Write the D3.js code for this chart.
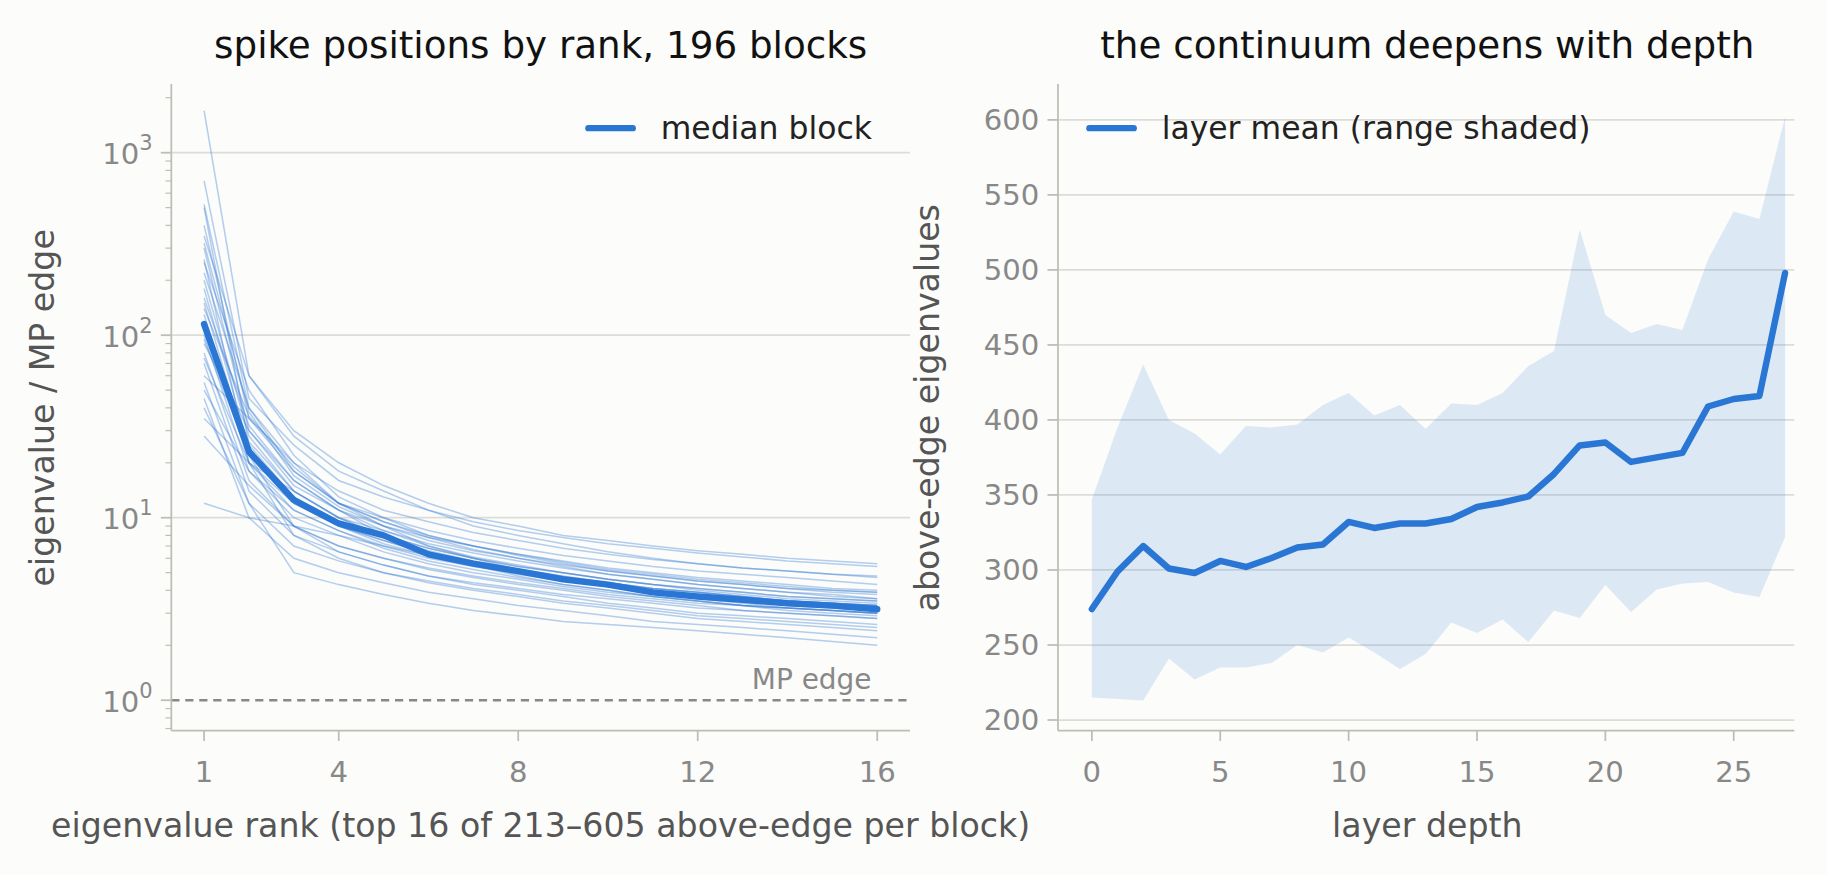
<!DOCTYPE html>
<html><head><meta charset="utf-8">
<script src="https://cdn.jsdelivr.net/npm/d3@7"></script>
<style>body{margin:0;background:#fcfcfa;overflow:hidden}text{font-family:"DejaVu Sans",sans-serif}</style>
</head><body><svg id="c" width="1827" height="875" viewBox="0 0 1568 751"></svg>
<script>
const ranks = d3.range(1,17);
const medianBlock = [115,23,12.5,9.3,8,6.3,5.6,5.1,4.6,4.3,3.9,3.7,3.55,3.4,3.3,3.15];
const blockLines = [
[1700,60,30,20,15,12,10,9,8,7.5,7,6.6,6.3,6,5.8,5.6],
[700,45,25,16,13,11,9.5,8.5,7.8,7.2,6.8,6.4,6.1,5.8,5.6,5.4],
[520,40,20,14,11,9.5,8.3,7.5,6.8,6.3,5.9,5.6,5.3,5.1,4.9,4.7],
[400,35,18,12,10,8.5,7.5,6.8,6.2,5.8,5.4,5.1,4.9,4.7,4.5,4.3],
[300,30,15,11,9,7.8,7,6.3,5.8,5.3,5,4.7,4.5,4.3,4.1,4],
[250,50,22,13,10,8,7,6.2,5.6,5.1,4.8,4.5,4.3,4.1,3.9,3.8],
[200,28,14,10,8.5,7.2,6.4,5.8,5.3,4.9,4.6,4.3,4.1,3.9,3.8,3.6],
[180,24,13,9.5,8,6.8,6,5.4,5,4.6,4.3,4.1,3.9,3.7,3.6,3.5],
[150,22,12,9,7.5,6.4,5.7,5.1,4.7,4.4,4.1,3.9,3.7,3.5,3.4,3.3],
[130,20,11,8.5,7,6,5.4,4.9,4.5,4.2,3.9,3.7,3.5,3.4,3.3,3.2],
[100,18,10,8,6.5,5.6,5,4.6,4.2,3.9,3.7,3.5,3.3,3.2,3.1,3],
[90,30,16,11,8,6.5,5.5,4.8,4.3,4,3.7,3.5,3.3,3.1,3,2.9],
[80,16,9,7,6,5.2,4.7,4.3,4,3.7,3.5,3.3,3.1,3,2.9,2.8],
[70,14,8,6.5,5.5,4.8,4.3,4,3.7,3.4,3.2,3,2.9,2.8,2.7,2.6],
[60,35,20,12,9,7,6,5.2,4.6,4.2,3.9,3.6,3.4,3.2,3.1,3],
[55,12,7,5.8,5,4.4,4,3.7,3.4,3.2,3,2.8,2.7,2.6,2.5,2.4],
[45,10,6,5,4.4,3.9,3.6,3.3,3.1,2.9,2.7,2.6,2.5,2.4,2.3,2.2],
[40,12,5,4.3,3.8,3.4,3.1,2.9,2.7,2.6,2.5,2.4,2.3,2.2,2.1,2.0],
[28,15,9,7,6,5.3,4.8,4.4,4.1,3.8,3.6,3.4,3.3,3.2,3.1,3],
[12,10,9,8,7,6.2,5.6,5.1,4.7,4.4,4.1,3.9,3.7,3.5,3.4,3.3],
[350,60,28,18,14,11,9,8,7.2,6.5,6,5.6,5.3,5.1,4.9,4.8],
[220,40,18,12,9.5,8,7,6.3,5.7,5.2,4.9,4.6,4.4,4.2,4,3.9],
[160,32,16,11,8.5,7,6.1,5.5,5,4.6,4.3,4,3.8,3.6,3.5,3.4],
[110,26,14,10,7.8,6.6,5.8,5.2,4.8,4.4,4.1,3.9,3.7,3.5,3.4,3.3],
[75,20,12,9,7.2,6.2,5.5,5,4.6,4.3,4,3.8,3.6,3.5,3.4,3.3],
[50,18,11,8.5,6.8,5.8,5.2,4.7,4.3,4,3.7,3.5,3.3,3.2,3.1,3],
[35,20,14,10,8,6.8,6,5.4,5,4.6,4.3,4.1,3.9,3.7,3.6,3.5],
[500,25,13,9,7.5,6.3,5.6,5,4.6,4.2,3.9,3.7,3.5,3.3,3.2,3.1],
[260,20,8,6,5,4.5,4.1,3.8,3.5,3.3,3.1,2.9,2.8,2.7,2.6,2.5],
[320,38,17,11.5,9,7.5,6.6,6,5.5,5.1,4.8,4.5,4.3,4.1,4,3.9],
[140,36,19,12,9.5,7.8,6.7,6,5.4,4.9,4.6,4.3,4.1,3.9,3.7,3.6],
[95,22,9,6.5,5.5,4.8,4.4,4.1,3.8,3.6,3.4,3.2,3.1,3,2.9,2.8]
];
const layers = d3.range(0,28);
const layerMean = [274,299,316,301,298,306,302,308,315,317,332,328,331,331,334,342,345,349,364,383,385,372,375,378,409,414,416,498];
const layerMax = [347,395,437,400,391,377,396,395,397,410,418,403,410,394,411,410,418,436,446,527,470,458,464,460,507,539,534,602];
const layerMin = [215,214,213,241,227,235,235,238,250,245,255,245,234,244,265,258,267,252,273,268,290,272,287,291,292,285,282,322];
const xTicksL = [1,4,8,12,16];
const xTicksR = [0,5,10,15,20,25];
const yTicksR = [200,250,300,350,400,450,500,550,600];

const svg = d3.select("#c");
const blue = "#2a76d4", grid="#dcdcd8", spine="#bdbdb5", tickc="#888", labc="#555";
const FT=32, FK=25, FA=28.5, FG=27;
svg.append("rect").attr("width",1568).attr("height",751).attr("fill","#fcfcfa");

// LEFT
const L={l:147,r:781,t:72,b:627};
const xL=d3.scaleLinear().domain([0.27,16.73]).range([L.l,L.r]);
const yL=d3.scaleLog().domain([Math.pow(10,-0.166),Math.pow(10,3.377)]).range([L.b,L.t]);
const gL=svg.append("g");
[10,100,1000].forEach(v=>gL.append("line").attr("x1",L.l).attr("x2",L.r).attr("y1",yL(v)).attr("y2",yL(v)).attr("stroke",grid).attr("stroke-width",1.5));
const lineL=d3.line().x((d,i)=>xL(ranks[i])).y(d=>yL(d));
blockLines.forEach(b=>gL.append("path").attr("d",lineL(b)).attr("fill","none").attr("stroke",blue).attr("stroke-opacity",0.35).attr("stroke-width",1.3));
gL.append("line").attr("x1",L.l).attr("x2",L.r).attr("y1",yL(1)).attr("y2",yL(1)).attr("stroke","#888").attr("stroke-width",2).attr("stroke-dasharray","7,5");
gL.append("text").attr("x",748).attr("y",yL(1)-10).attr("text-anchor","end").attr("font-size",24).attr("fill","#888").text("MP edge");
gL.append("path").attr("d",lineL(medianBlock)).attr("fill","none").attr("stroke",blue).attr("stroke-width",5.5).attr("stroke-linejoin","round").attr("stroke-linecap","round");
gL.append("line").attr("x1",L.l).attr("x2",L.l).attr("y1",L.t).attr("y2",L.b).attr("stroke",spine).attr("stroke-width",1.5);
gL.append("line").attr("x1",L.l).attr("x2",L.r).attr("y1",L.b).attr("y2",L.b).attr("stroke",spine).attr("stroke-width",1.5);
for(let e=-1;e<=3;e++)for(let m=2;m<=9;m++){const v=m*Math.pow(10,e);if(v<yL.domain()[0]||v>yL.domain()[1])continue;
 gL.append("line").attr("x1",L.l-5).attr("x2",L.l).attr("y1",yL(v)).attr("y2",yL(v)).attr("stroke",spine);}
[0,1,2,3].forEach(e=>{const y=yL(Math.pow(10,e));
 gL.append("line").attr("x1",L.l-9).attr("x2",L.l).attr("y1",y).attr("y2",y).attr("stroke",spine).attr("stroke-width",1.5);
 const t=gL.append("text").attr("x",L.l-16).attr("y",y+10).attr("text-anchor","end").attr("font-size",FK).attr("fill",tickc);
 t.append("tspan").text("10");t.append("tspan").attr("dy",-12).attr("font-size",18).text(e);});
xTicksL.forEach(v=>{gL.append("line").attr("x1",xL(v)).attr("x2",xL(v)).attr("y1",L.b).attr("y2",L.b+9).attr("stroke",spine).attr("stroke-width",1.5);
 gL.append("text").attr("x",xL(v)).attr("y",L.b+44).attr("text-anchor","middle").attr("font-size",FK).attr("fill",tickc).text(v);});
svg.append("text").attr("x",464).attr("y",50).attr("text-anchor","middle").attr("font-size",FT).attr("fill","#111").text("spike positions by rank, 196 blocks");
svg.append("text").attr("x",464).attr("y",718).attr("text-anchor","middle").attr("font-size",FA).attr("fill",labc).text("eigenvalue rank (top 16 of 213–605 above-edge per block)");
svg.append("text").attr("transform","translate(46,350) rotate(-90)").attr("text-anchor","middle").attr("font-size",FA).attr("fill",labc).text("eigenvalue / MP edge");
svg.append("line").attr("x1",505).attr("x2",543).attr("y1",110).attr("y2",110).attr("stroke",blue).attr("stroke-width",5.5).attr("stroke-linecap","round");
svg.append("text").attr("x",567).attr("y",119).attr("font-size",FG).attr("fill","#222").text("median block");

// RIGHT
const R={l:908,r:1540,t:72,b:627};
const xR=d3.scaleLinear().domain([-1.32,27.36]).range([R.l,R.r]);
const yR=d3.scaleLinear().domain([193,624]).range([R.b,R.t]);
const gR=svg.append("g");
yTicksR.forEach(v=>gR.append("line").attr("x1",R.l).attr("x2",R.r).attr("y1",yR(v)).attr("y2",yR(v)).attr("stroke",grid).attr("stroke-width",1.5));
gR.append("path").attr("d",d3.area().x((d,i)=>xR(layers[i])).y0((d,i)=>yR(layerMin[i])).y1(d=>yR(d))(layerMax)).attr("fill",blue).attr("fill-opacity",0.15);
gR.append("path").attr("d",d3.line().x((d,i)=>xR(layers[i])).y(d=>yR(d))(layerMean)).attr("fill","none").attr("stroke",blue).attr("stroke-width",5.5).attr("stroke-linejoin","round").attr("stroke-linecap","round");
gR.append("line").attr("x1",R.l).attr("x2",R.l).attr("y1",R.t).attr("y2",R.b).attr("stroke",spine).attr("stroke-width",1.5);
gR.append("line").attr("x1",R.l).attr("x2",R.r).attr("y1",R.b).attr("y2",R.b).attr("stroke",spine).attr("stroke-width",1.5);
yTicksR.forEach(v=>{gR.append("line").attr("x1",R.l-9).attr("x2",R.l).attr("y1",yR(v)).attr("y2",yR(v)).attr("stroke",spine).attr("stroke-width",1.5);
 gR.append("text").attr("x",R.l-16).attr("y",yR(v)+9).attr("text-anchor","end").attr("font-size",FK).attr("fill",tickc).text(v);});
xTicksR.forEach(v=>{gR.append("line").attr("x1",xR(v)).attr("x2",xR(v)).attr("y1",R.b).attr("y2",R.b+9).attr("stroke",spine).attr("stroke-width",1.5);
 gR.append("text").attr("x",xR(v)).attr("y",R.b+44).attr("text-anchor","middle").attr("font-size",FK).attr("fill",tickc).text(v);});
svg.append("text").attr("x",1225).attr("y",50).attr("text-anchor","middle").attr("font-size",FT).attr("fill","#111").text("the continuum deepens with depth");
svg.append("text").attr("x",1225).attr("y",718).attr("text-anchor","middle").attr("font-size",FA).attr("fill",labc).text("layer depth");
svg.append("text").attr("transform","translate(806,350) rotate(-90)").attr("text-anchor","middle").attr("font-size",FA).attr("fill",labc).text("above-edge eigenvalues");
svg.append("line").attr("x1",935).attr("x2",973).attr("y1",110).attr("y2",110).attr("stroke",blue).attr("stroke-width",5.5).attr("stroke-linecap","round");
svg.append("text").attr("x",997).attr("y",119).attr("font-size",FG).attr("fill","#222").text("layer mean (range shaded)");
</script></body></html>
